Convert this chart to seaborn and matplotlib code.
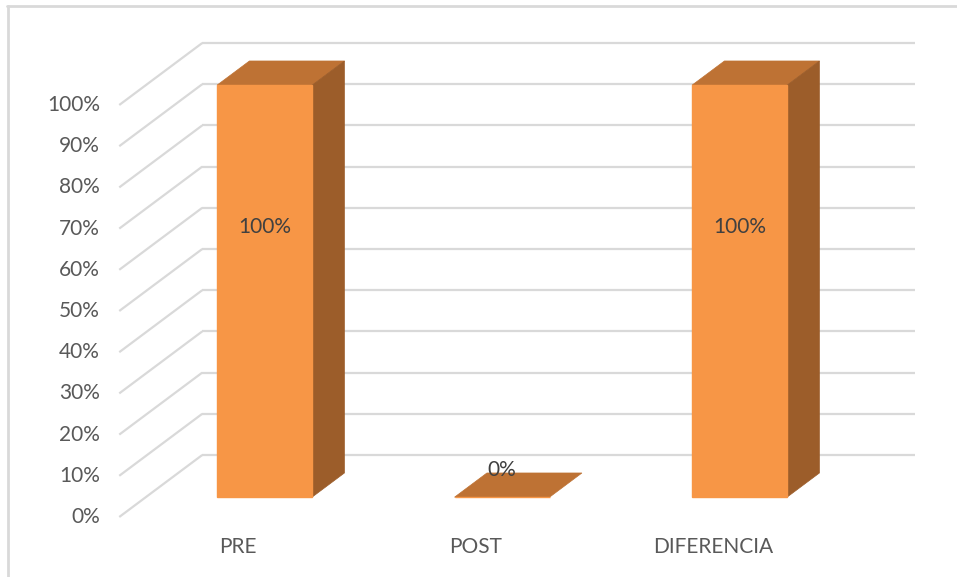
import matplotlib
matplotlib.use("Agg")
import matplotlib.pyplot as plt
from matplotlib.patches import Polygon
from matplotlib.lines import Line2D
import seaborn as sns
import pandas as pd

# Data
categories = ["PRE", "POST", "DIFERENCIA"]
values = [100, 0, 100]
y_ticks = [0, 10, 20, 30, 40, 50, 60, 70, 80, 90, 100]
y_tick_labels = [f"{t}%" for t in y_ticks]

# Colours
FRONT = "#F79646"
TOP = "#BE7234"
SIDE = "#9C5D2A"
GRID = "#D9D9D9"
TICK_TXT = "#595959"
LABEL_TXT = "#404040"

sns.set_theme(style="white")
plt.rcParams["font.family"] = ["Lato", "DejaVu Sans"]

W, H, DPI = 957, 577, 100
FS = 15
fig = plt.figure(figsize=(W / DPI, H / DPI), dpi=DPI)
ax = fig.add_axes([0, 0, 1, 1])

# Mapping of the front plane to the canvas
px_per_cat = 237.5
px_per_pct = 4.12
x0_px, y0_px = 238.0, 517.0

# Perspective depth of the chart box (category units, percent units)
depth_dx = 83 / px_per_cat
depth_dy = 62 / px_per_pct
f_front, f_back = 0.32, 0.71
half_w = 0.2

df = pd.DataFrame({"cat": categories, "val": values})

# Front faces of the columns
sns.barplot(data=df, x="cat", y="val", color=FRONT, saturation=1,
            width=2 * half_w, ax=ax, zorder=4, edgecolor=FRONT, linewidth=1)
ox0, oy0 = f_front * depth_dx, f_front * depth_dy
ox1, oy1 = f_back * depth_dx, f_back * depth_dy
for p in ax.patches:
    p.set_x(p.get_x() + ox0)
    p.set_y(oy0)

# Axis limits so that the front plane lands where intended
ax.set_xlim(-x0_px / px_per_cat, (W - x0_px) / px_per_cat)
ax.set_ylim(-(H - y0_px) / px_per_pct, y0_px / px_per_pct)
ax.set_axis_off()

x_left, x_right = -0.5, len(categories) - 0.5

# Walls: side-wall diagonals and back-wall horizontals
for t in y_ticks:
    ax.add_line(Line2D([x_left, x_left + depth_dx], [t, t + depth_dy],
                       color=GRID, lw=1.6, zorder=1, solid_capstyle="butt"))
    ax.add_line(Line2D([x_left + depth_dx, x_right + depth_dx],
                       [t + depth_dy, t + depth_dy],
                       color=GRID, lw=1.6, zorder=1, solid_capstyle="butt"))

# Top and side faces of the columns
for i, v in enumerate(values):
    l, r = i - half_w, i + half_w
    top = Polygon([(l + ox0, oy0 + v), (r + ox0, oy0 + v),
                   (r + ox1, oy1 + v), (l + ox1, oy1 + v)],
                  closed=True, facecolor=TOP, edgecolor=TOP, lw=0.5, zorder=3)
    ax.add_patch(top)
    if v > 0:
        side = Polygon([(r + ox0, oy0), (r + ox1, oy1),
                        (r + ox1, oy1 + v), (r + ox0, oy0 + v)],
                       closed=True, facecolor=SIDE, edgecolor=SIDE, lw=0.5, zorder=3)
        ax.add_patch(side)
    # value label
    ax.text(i + ox0, oy0 + 6.5 + 0.59 * v, f"{v}%", ha="center", va="center",
            fontsize=FS, color=LABEL_TXT, zorder=6)

# Y tick labels
for t, lab in zip(y_ticks, y_tick_labels):
    ax.text((100 - x0_px) / px_per_cat, t, lab, ha="right", va="center",
            fontsize=FS, color=TICK_TXT)

# Category labels
for i, c in enumerate(categories):
    ax.text(i, -(547 - y0_px) / px_per_pct, c, ha="center", va="center",
            fontsize=FS, color=TICK_TXT)

# Chart-area border (top and left edges)
fig.add_artist(Line2D([7 / W, 1], [1 - 6 / H, 1 - 6 / H], transform=fig.transFigure,
                      color=GRID, lw=2))
fig.add_artist(Line2D([8 / W, 8 / W], [0, 1 - 6 / H], transform=fig.transFigure,
                      color=GRID, lw=2))

fig.savefig("out.png", dpi=DPI)
